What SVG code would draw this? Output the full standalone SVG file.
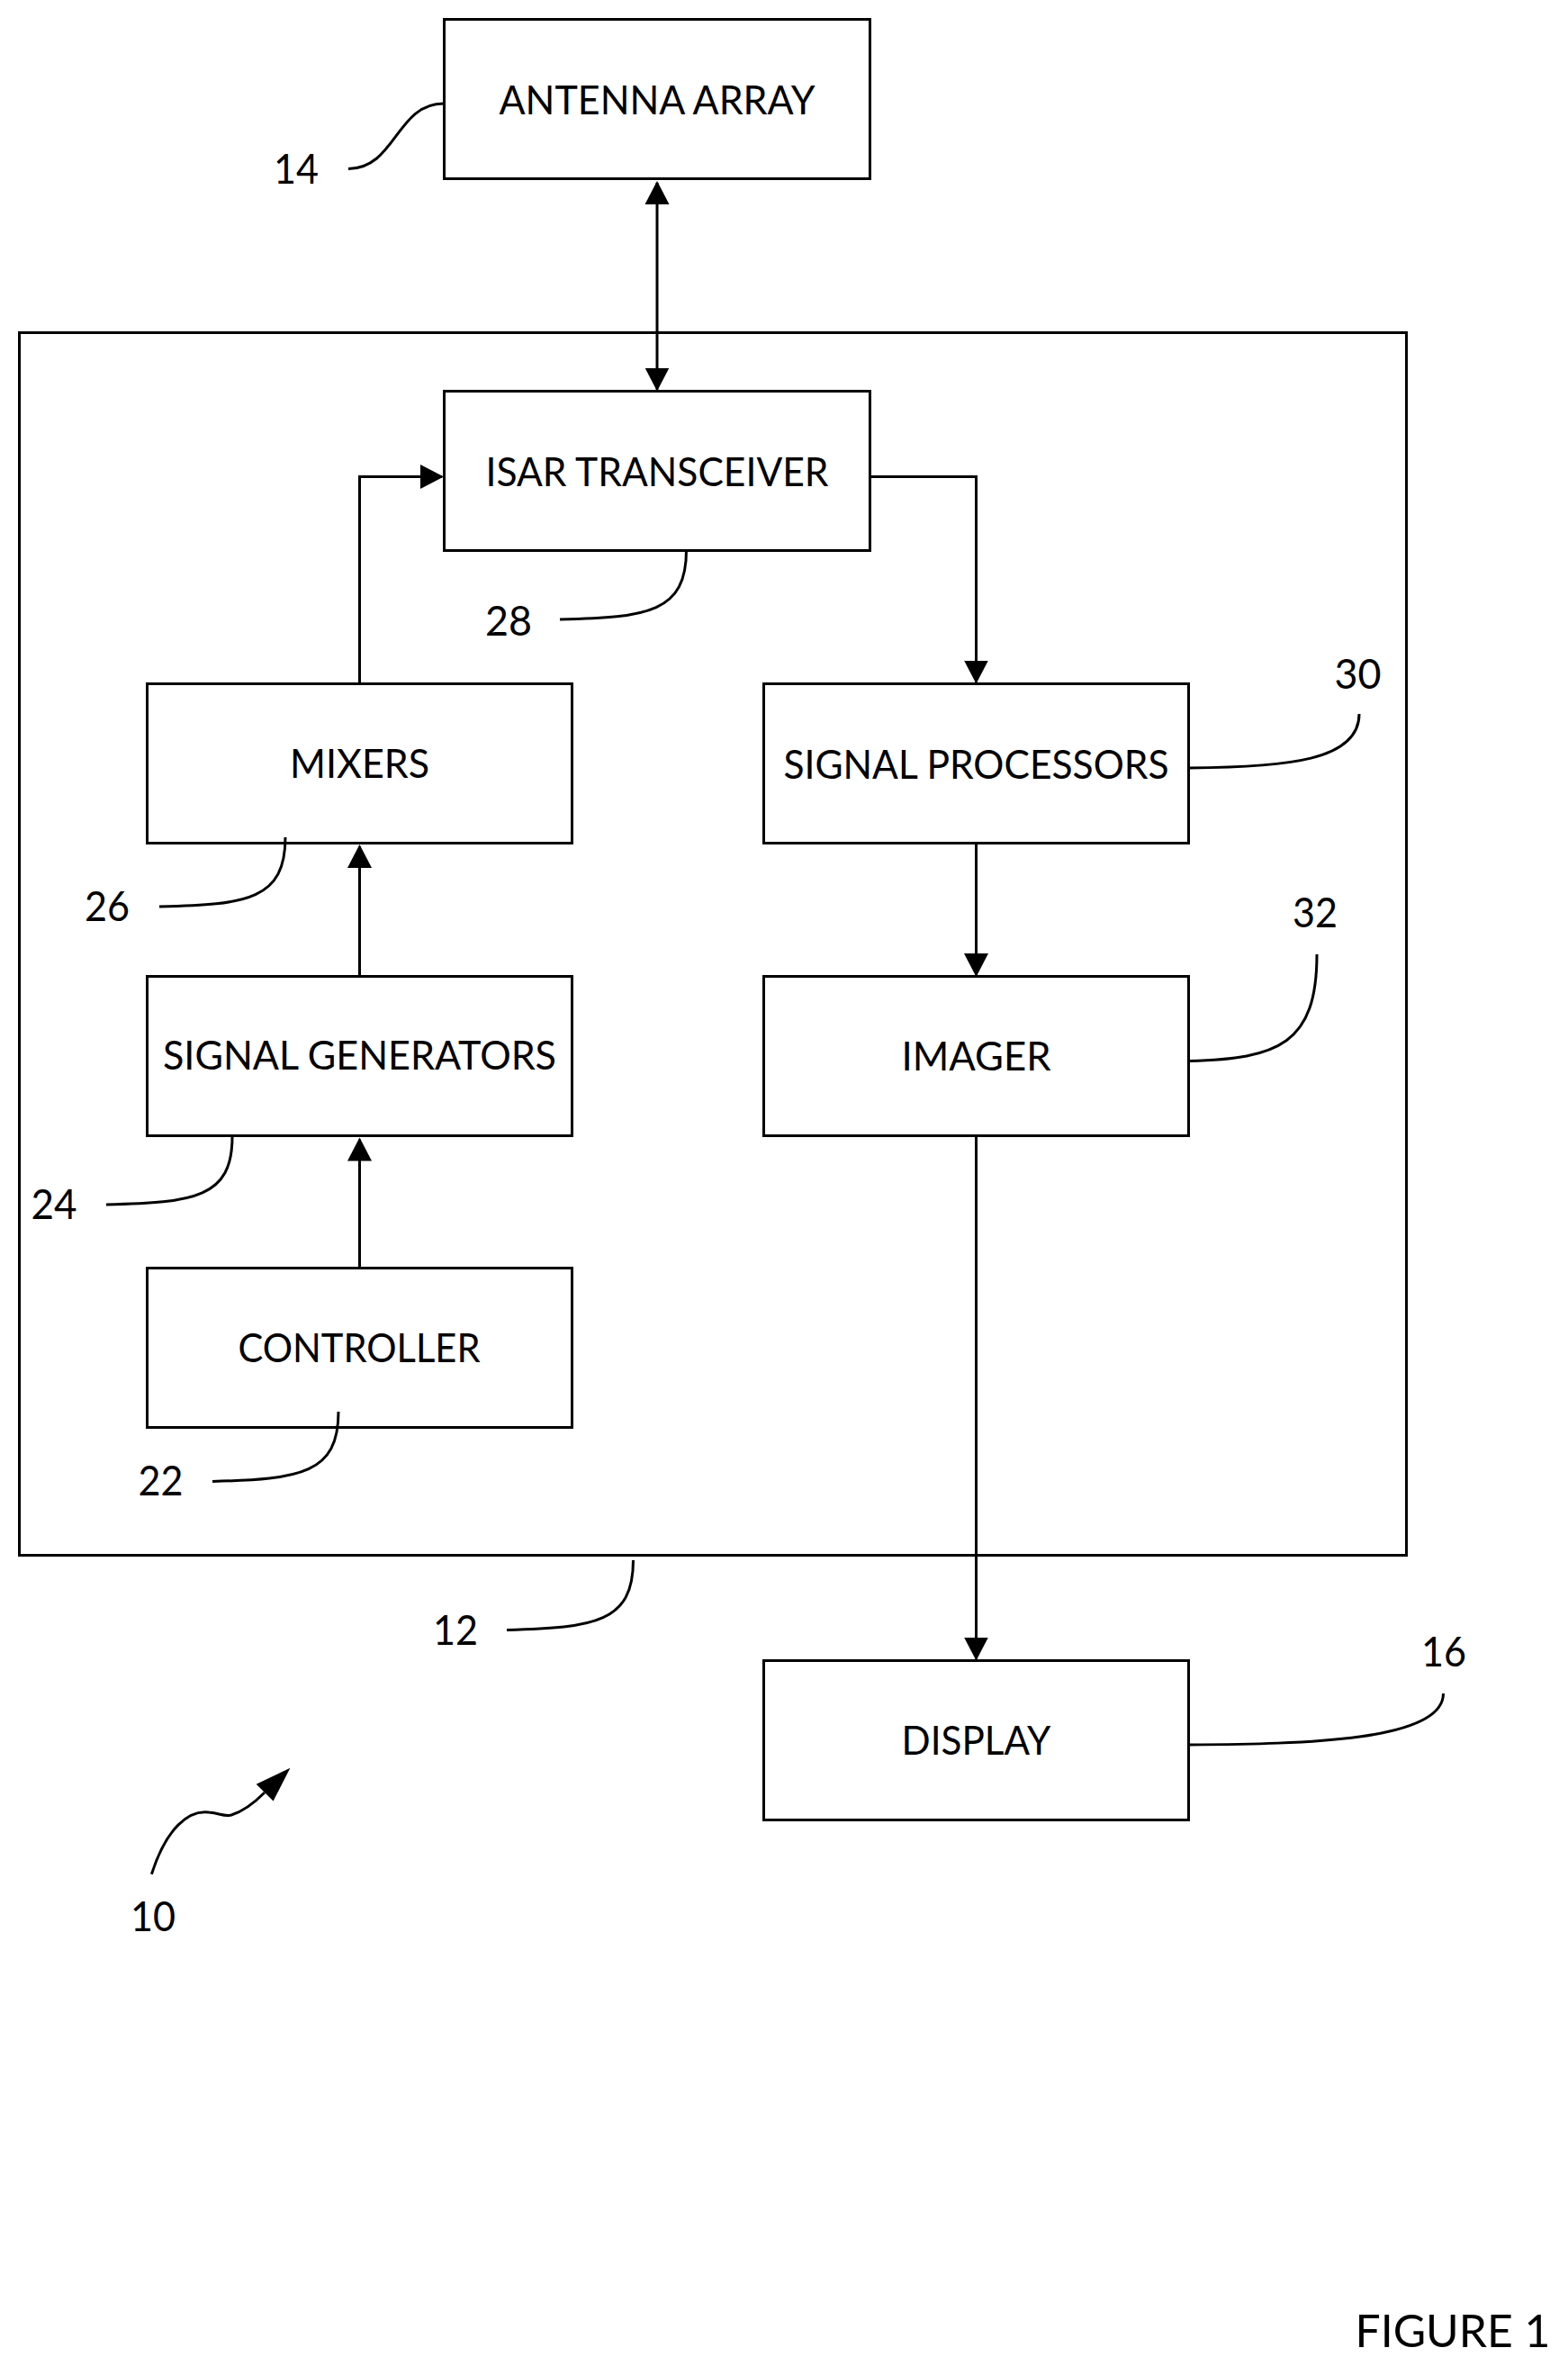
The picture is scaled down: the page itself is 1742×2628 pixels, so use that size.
<svg xmlns="http://www.w3.org/2000/svg" width="1742" height="2628" viewBox="0 0 1742 2628">
<style>
.box{fill:none;stroke:#000;stroke-width:3}
.line{fill:none;stroke:#000;stroke-width:3}
.leader{fill:none;stroke:#000;stroke-width:3}
text{font-family:"Lato","Carlito","Liberation Sans",sans-serif;fill:#000;font-size:44px}
.num{font-size:47px}
.fig{font-size:51px}
</style>
<defs>
<marker id="head" markerUnits="userSpaceOnUse" markerWidth="28" markerHeight="28" refX="24" refY="14" orient="auto-start-reverse"><path d="M0,0.5 L26,14 L0,27.5 Z" fill="#000"/></marker>
</defs>
<rect width="1742" height="2628" fill="#fff"/>
<g id="node-12"><rect class="box" x="21.5" y="369.5" width="1541" height="1358"/></g>
<g id="connectors">
<path class="line" d="M730,203 V432.5" marker-start="url(#head)" marker-end="url(#head)"/>
<path class="line" d="M399.5,759.5 V529.5 H491" marker-end="url(#head)"/>
<path class="line" d="M966.5,529.5 H1084.5 V757.5" marker-end="url(#head)"/>
<path class="line" d="M399.5,1084.5 V940" marker-end="url(#head)"/>
<path class="line" d="M399.5,1409 V1265.5" marker-end="url(#head)"/>
<path class="line" d="M1084.5,936.5 V1083" marker-end="url(#head)"/>
<path class="line" d="M1084.5,1261.5 V1842.5" marker-end="url(#head)"/>
</g>
<g id="node-14"><rect class="box" x="493.5" y="21.5" width="473" height="177"/><text x="554.5" y="126.5" textLength="351" lengthAdjust="spacingAndGlyphs">ANTENNA ARRAY</text></g>
<g id="node-28"><rect class="box" x="493.5" y="434.5" width="473" height="177"/><text x="539.5" y="539.5" textLength="381" lengthAdjust="spacingAndGlyphs">ISAR TRANSCEIVER</text></g>
<g id="node-26"><rect class="box" x="163.5" y="759.5" width="472" height="177"/><text x="322" y="864" textLength="155" lengthAdjust="spacingAndGlyphs">MIXERS</text></g>
<g id="node-24"><rect class="box" x="163.5" y="1084.5" width="472" height="177"/><text x="181" y="1188" textLength="437" lengthAdjust="spacingAndGlyphs">SIGNAL GENERATORS</text></g>
<g id="node-22"><rect class="box" x="163.5" y="1408.5" width="472" height="177"/><text x="264.5" y="1513" textLength="269" lengthAdjust="spacingAndGlyphs">CONTROLLER</text></g>
<g id="node-30"><rect class="box" x="848.5" y="759.5" width="472" height="177"/><text x="870.5" y="864.5" textLength="428" lengthAdjust="spacingAndGlyphs">SIGNAL PROCESSORS</text></g>
<g id="node-32"><rect class="box" x="848.5" y="1084.5" width="472" height="177"/><text x="1001.5" y="1188.5" textLength="166" lengthAdjust="spacingAndGlyphs">IMAGER</text></g>
<g id="node-16"><rect class="box" x="848.5" y="1844.5" width="472" height="177"/><text x="1001.5" y="1948.5" textLength="166" lengthAdjust="spacingAndGlyphs">DISPLAY</text></g>
<g id="leaders">
<path class="leader" d="M387,187.5 C440,187 440,115 493,115"/>
<path class="leader" d="M622,688 C720,686 762.5,680 762.5,611"/>
<path class="leader" d="M177,1007 C275,1005 317,999 317,930"/>
<path class="leader" d="M118,1338 C216,1336 258,1330 258,1263"/>
<path class="leader" d="M236,1645.5 C334,1643 376,1637 376,1568"/>
<path class="leader" d="M563,1810.5 C661,1808 703.5,1802 703.5,1733"/>
<path class="leader" d="M1321,853 C1430,852 1510,845 1510,793"/>
<path class="leader" d="M1321,1178.5 C1420,1176 1463,1160 1463,1060"/>
<path class="leader" d="M1321,1938 C1450,1937 1603.5,1934 1603.5,1881"/>
<path class="leader" d="M168.4,2081.7 C185,2030 210,2010 232,2013 C245,2014 248,2018 257,2016 C270,2012 285,2000 294,1991"/>
<polygon points="322.4,1963.7 284.7,1981.8 303.6,2000.5" fill="#000"/>
</g>
<g id="labels">
<text class="num" x="304" y="203.5" textLength="50" lengthAdjust="spacingAndGlyphs">14</text>
<text class="num" x="539" y="705.5" textLength="52" lengthAdjust="spacingAndGlyphs">28</text>
<text class="num" x="94" y="1022.5" textLength="50" lengthAdjust="spacingAndGlyphs">26</text>
<text class="num" x="34.5" y="1354" textLength="51" lengthAdjust="spacingAndGlyphs">24</text>
<text class="num" x="153.5" y="1660.5" textLength="50" lengthAdjust="spacingAndGlyphs">22</text>
<text class="num" x="481" y="1826.5" textLength="50" lengthAdjust="spacingAndGlyphs">12</text>
<text class="num" x="1482.5" y="764.5" textLength="52" lengthAdjust="spacingAndGlyphs">30</text>
<text class="num" x="1436" y="1029.5" textLength="50" lengthAdjust="spacingAndGlyphs">32</text>
<text class="num" x="1579" y="1850.5" textLength="50" lengthAdjust="spacingAndGlyphs">16</text>
<text class="num" x="145" y="2145" textLength="50" lengthAdjust="spacingAndGlyphs">10</text>
<text class="fig" x="1505.5" y="2607" textLength="217" lengthAdjust="spacingAndGlyphs">FIGURE 1</text>
</g>
</svg>
